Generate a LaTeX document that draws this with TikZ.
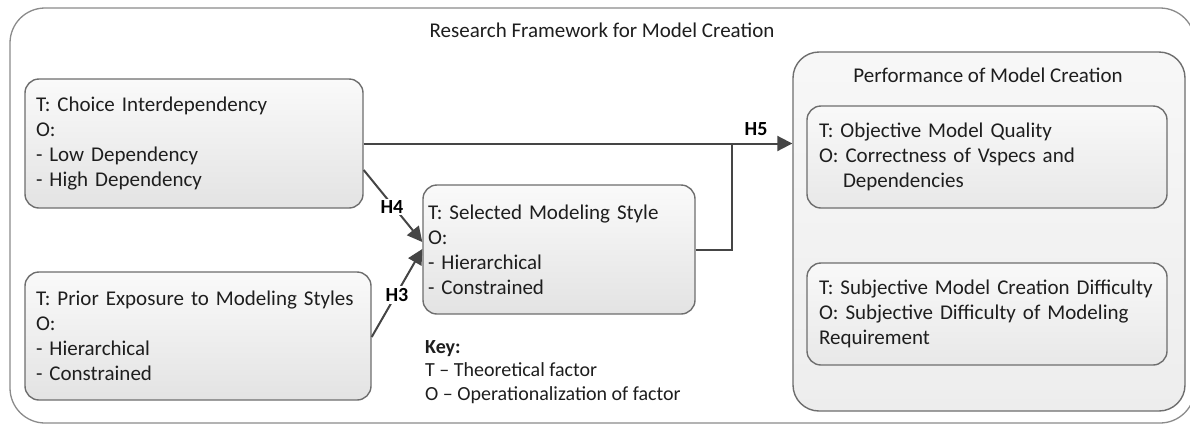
\documentclass[tikz,border=0pt]{standalone}
\usepackage{fontspec}
\setmainfont{Carlito}
\usetikzlibrary{arrows.meta,calc}
\definecolor{bord}{HTML}{6E6E6E}
\definecolor{arrc}{HTML}{454545}
\definecolor{txt}{HTML}{1E1E1E}
\tikzset{
  frame/.style={draw=bord!80, line width=1.3pt, rounded corners=35pt, fill=white},
  factor/.style={draw=bord, line width=1.4pt, rounded corners=14pt,
    top color=gray!4, bottom color=gray!22, align=left, inner ysep=0pt,
    font=\fontsize{21}{25}\selectfont, text=txt},
  perfbox/.style={draw=bord, line width=1.4pt, rounded corners=26pt,
    top color=gray!6, bottom color=gray!14},
  conn/.style={draw=arrc, line width=2pt},
  arr/.style={conn, -{Triangle[length=15pt,width=15pt]}},
  hlab/.style={font=\fontsize{20}{24}\selectfont\bfseries, text=black},
  plain/.style={font=\fontsize{21}{25}\selectfont, text=txt},
}
\begin{document}
\begin{tikzpicture}[x=1pt,y=-1pt]
\useasboundingbox (0,0) rectangle (1190,424);
\node[frame, minimum width=1185pt, minimum height=415pt] (outer) at (602.5,215.5) {};
\node[plain] (title) at (602,30) {Research Framework for Model Creation};

\node[factor, text width=316pt, inner xsep=11pt, minimum height=129pt] (ci) at (194,143.5)
  {T: Choice Interdependency\\O:\\- Low Dependency\\- High Dependency};
\node[factor, text width=324pt, inner xsep=11pt, minimum height=128pt] (pe) at (198,336)
  {T: Prior Exposure to Modeling Styles\\O:\\- Hierarchical\\- Constrained};
\node[factor, text width=262pt, inner xsep=5pt, minimum height=129pt] (ms) at (559,249.5)
  {T: Selected Modeling Style\\O:\\- Hierarchical\\- Constrained};

\node[perfbox, minimum width=392pt, minimum height=359pt] (perf) at (989,231.5) {};
\node[plain] (perft) at (988,75) {Performance of Model Creation};
\node[factor, text width=336pt, inner xsep=12pt, minimum height=102pt, top color=gray!5, bottom color=gray!18] (oq) at (987,157)
  {T: Objective Model Quality\\O: Correctness of Vspecs and\\\hspace*{24pt}Dependencies};
\node[factor, text width=336pt, inner xsep=12pt, minimum height=102pt, top color=gray!5, bottom color=gray!18] (sd) at (987,314)
  {T: Subjective Model Creation Difficulty\\O: Subjective Difficulty of Modeling\\Requirement};

\node[plain, anchor=north west, align=left, inner sep=0pt, font=\fontsize{20}{23.5}\selectfont] (key) at (425,340)
  {\textbf{Key:}\\T -- Theoretical factor\\O -- Operationalization of factor};

\coordinate (j) at (732,143);
\draw[arr] (ci.east) -- (ci.east -| perf.west);
\draw[conn] (ms.east) -| (j);
\draw[arr] ([yshift=-26.5pt]ci.east) -- ([yshift=7.5pt]ms.west);
\draw[arr] ([yshift=-1pt]pe.east) -- ([yshift=0.5pt]ms.west);

\node[hlab, fill=white, inner sep=2pt] (h4) at (392,207) {H4};
\node[hlab, fill=white, inner sep=2pt] (h3) at (397,295) {H3};
\node[hlab] (h5) at (756,129) {H5};
\end{tikzpicture}
\end{document}
